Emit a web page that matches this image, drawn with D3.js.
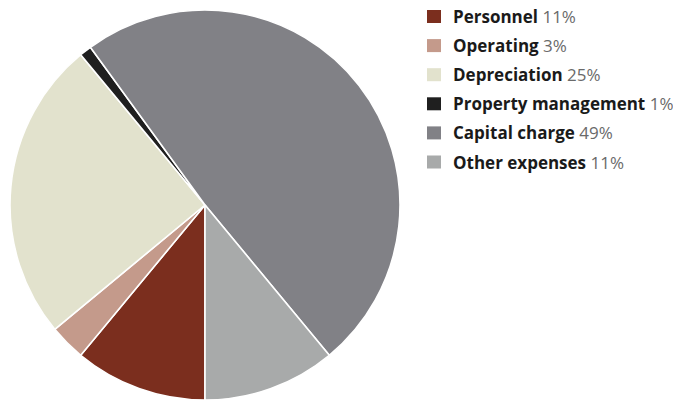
<!DOCTYPE html>
<html>
<head>
<meta charset="utf-8">
<script src="https://cdn.jsdelivr.net/npm/d3@7"></script>
<style>
  html, body { margin: 0; padding: 0; background: #ffffff; }
  svg { display: block; }
</style>
</head>
<body>
<svg id="chart" width="673" height="401"></svg>
<script>
const categories = ["Personnel", "Operating", "Depreciation", "Property management", "Capital charge", "Other expenses"];
const values = [11, 3, 25, 1, 49, 11];
const colors = ["#7b2e1e", "#c49a8b", "#e2e2cd", "#1f1f1f", "#818186", "#a8aaaa"];

const svg = d3.select("#chart");
const cx = 205, cy = 205, r = 195;

const pie = d3.pie().sort(null).value(d => d.value)
  .startAngle(Math.PI).endAngle(3 * Math.PI);
const data = categories.map((c, i) => ({ name: c, value: values[i], color: colors[i] }));
const arc = d3.arc().innerRadius(0).outerRadius(r);

svg.append("g").attr("transform", `translate(${cx},${cy})`)
  .selectAll("path").data(pie(data)).join("path")
  .attr("d", arc)
  .attr("fill", d => d.data.color)
  .attr("stroke", "#ffffff")
  .attr("stroke-width", 1.6)
  .attr("stroke-linejoin", "round");

const legendY = d3.scalePoint().domain(categories).range([16.5, 162]);
const lg = svg.append("g");
const rows = lg.selectAll("g").data(data).join("g")
  .attr("transform", d => `translate(427,${legendY(d.name)})`);
rows.append("rect").attr("x", 0).attr("y", -6.5).attr("width", 14).attr("height", 13)
  .attr("fill", d => d.color);
const txt = rows.append("text").attr("x", 26).attr("y", 6.5)
  .style("font-family", "'Open Sans', sans-serif").style("font-size", "17px");
txt.append("tspan").attr("font-weight", 700).attr("fill", "#1a1a1a").text(d => d.name + " ");
txt.append("tspan").attr("font-weight", 400).attr("fill", "#6a6a6a").text(d => d.value + "%");
</script>
</body>
</html>
